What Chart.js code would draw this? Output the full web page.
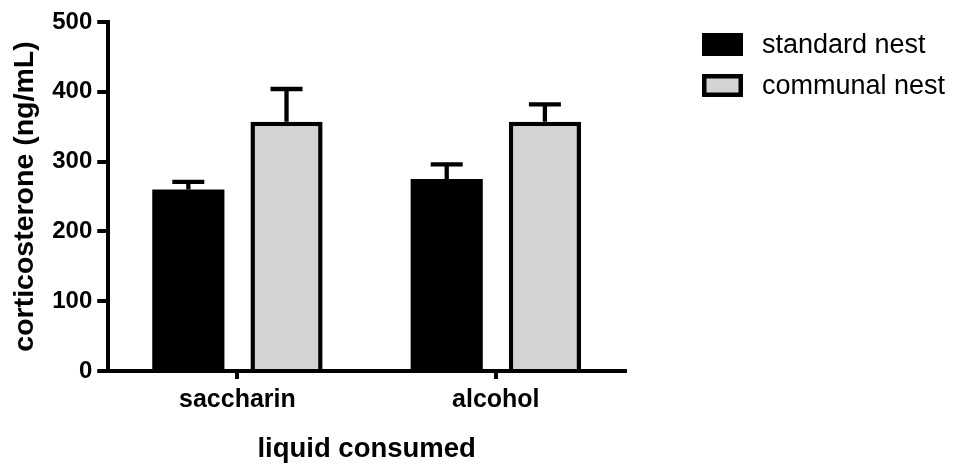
<!DOCTYPE html>
<html>
<head>
<meta charset="utf-8">
<script src="https://cdn.jsdelivr.net/npm/chart.js@4/dist/chart.umd.min.js"></script>
<style>
  html, body { margin: 0; padding: 0; background: #fff; }
  #wrap { width: 957px; height: 466px; position: relative; }
</style>
</head>
<body>
<div id="wrap"><canvas id="c" width="957" height="466"></canvas></div>
<script>
// Plasma corticosterone by drinking solution and housing condition (mean + SEM)
const categories = ['saccharin', 'alcohol'];
const seriesNames = ['standard nest', 'communal nest'];
const standardMean = [260, 275];
const standardSEM = [11, 21];
const communalMean = [357, 357];
const communalSEM = [47, 25];
const yTicks = [0, 100, 200, 300, 400, 500];

const FONT = '"Liberation Sans", Arial, Helvetica, sans-serif';

// Upward-only error whiskers with a horizontal cap
const errorBars = {
  id: 'errorBars',
  afterDatasetsDraw(chart) {
    const ctx = chart.ctx;
    const y = chart.scales.y;
    chart.data.datasets.forEach((ds, di) => {
      const meta = chart.getDatasetMeta(di);
      meta.data.forEach((bar, i) => {
        const top = y.getPixelForValue(ds.data[i] + ds.errors[i]);
        ctx.save();
        ctx.strokeStyle = '#000';
        ctx.lineWidth = 4.3;
        ctx.lineCap = 'butt';
        ctx.beginPath();
        ctx.moveTo(bar.x, bar.y);
        ctx.lineTo(bar.x, top);
        ctx.moveTo(bar.x - 16, top);
        ctx.lineTo(bar.x + 16, top);
        ctx.stroke();
        ctx.restore();
      });
    });
  }
};

// Legend with swatches at the upper right
const sideLegend = {
  id: 'sideLegend',
  afterDraw(chart) {
    const ctx = chart.ctx;
    const x0 = 702, y0 = 33, w = 41, h = 23, gap = 41;
    chart.data.datasets.forEach((ds, i) => {
      const y = y0 + i * gap;
      ctx.save();
      ctx.fillStyle = ds.borderColor;
      ctx.fillRect(x0, y, w, h);
      const bw = ds.borderWidth;
      ctx.fillStyle = ds.backgroundColor;
      ctx.fillRect(x0 + bw, y + bw, w - 2 * bw, h - 2 * bw);
      ctx.fillStyle = '#000';
      ctx.font = '27px ' + FONT;
      ctx.textBaseline = 'middle';
      ctx.textAlign = 'left';
      ctx.fillText(ds.label, 762, y + h / 2 + 1);
      ctx.restore();
    });
  }
};

new Chart(document.getElementById('c'), {
  type: 'bar',
  data: {
    labels: categories,
    datasets: [
      {
        label: seriesNames[0],
        data: standardMean,
        errors: standardSEM,
        backgroundColor: '#000000',
        borderColor: '#000000',
        borderWidth: 0
      },
      {
        label: seriesNames[1],
        data: communalMean,
        errors: communalSEM,
        backgroundColor: '#d3d3d3',
        borderColor: '#000000',
        borderWidth: 4.5,
        borderSkipped: 'start'
      }
    ]
  },
  options: {
    responsive: false,
    animation: false,
    devicePixelRatio: 1,
    categoryPercentage: 0.76,
    barPercentage: 0.735,
    layout: { padding: { left: 4, right: 332, top: 22, bottom: 0 } },
    plugins: {
      legend: { display: false },
      tooltip: { enabled: false }
    },
    scales: {
      x: {
        z: 1,
        offset: true,
        border: { display: true, color: '#000', width: 4 },
        grid: { display: true, offset: false, drawOnChartArea: false, drawTicks: true, tickLength: 8, lineWidth: 4, color: '#000' },
        ticks: { color: '#000', padding: 6, font: { family: FONT, size: 25, weight: 'bold' } },
        title: { display: true, text: 'liquid consumed', color: '#000', padding: { top: 12, bottom: 0 }, font: { family: FONT, size: 27.5, weight: 'bold' } }
      },
      y: {
        z: 1,
        min: 0,
        max: 500,
        afterBuildTicks(scale) { scale.ticks = yTicks.map(v => ({ value: v })); },
        border: { display: true, color: '#000', width: 4 },
        grid: { display: true, drawOnChartArea: false, drawTicks: true, tickLength: 11, lineWidth: 4, color: '#000' },
        ticks: { color: '#000', padding: 5, font: { family: FONT, size: 24, weight: 'bold' } },
        title: { display: true, text: 'corticosterone (ng/mL)', color: '#000', padding: { top: 4, bottom: 5 }, font: { family: FONT, size: 28.5, weight: 'bold' } }
      }
    }
  },
  plugins: [errorBars, sideLegend]
});
</script>
</body>
</html>
